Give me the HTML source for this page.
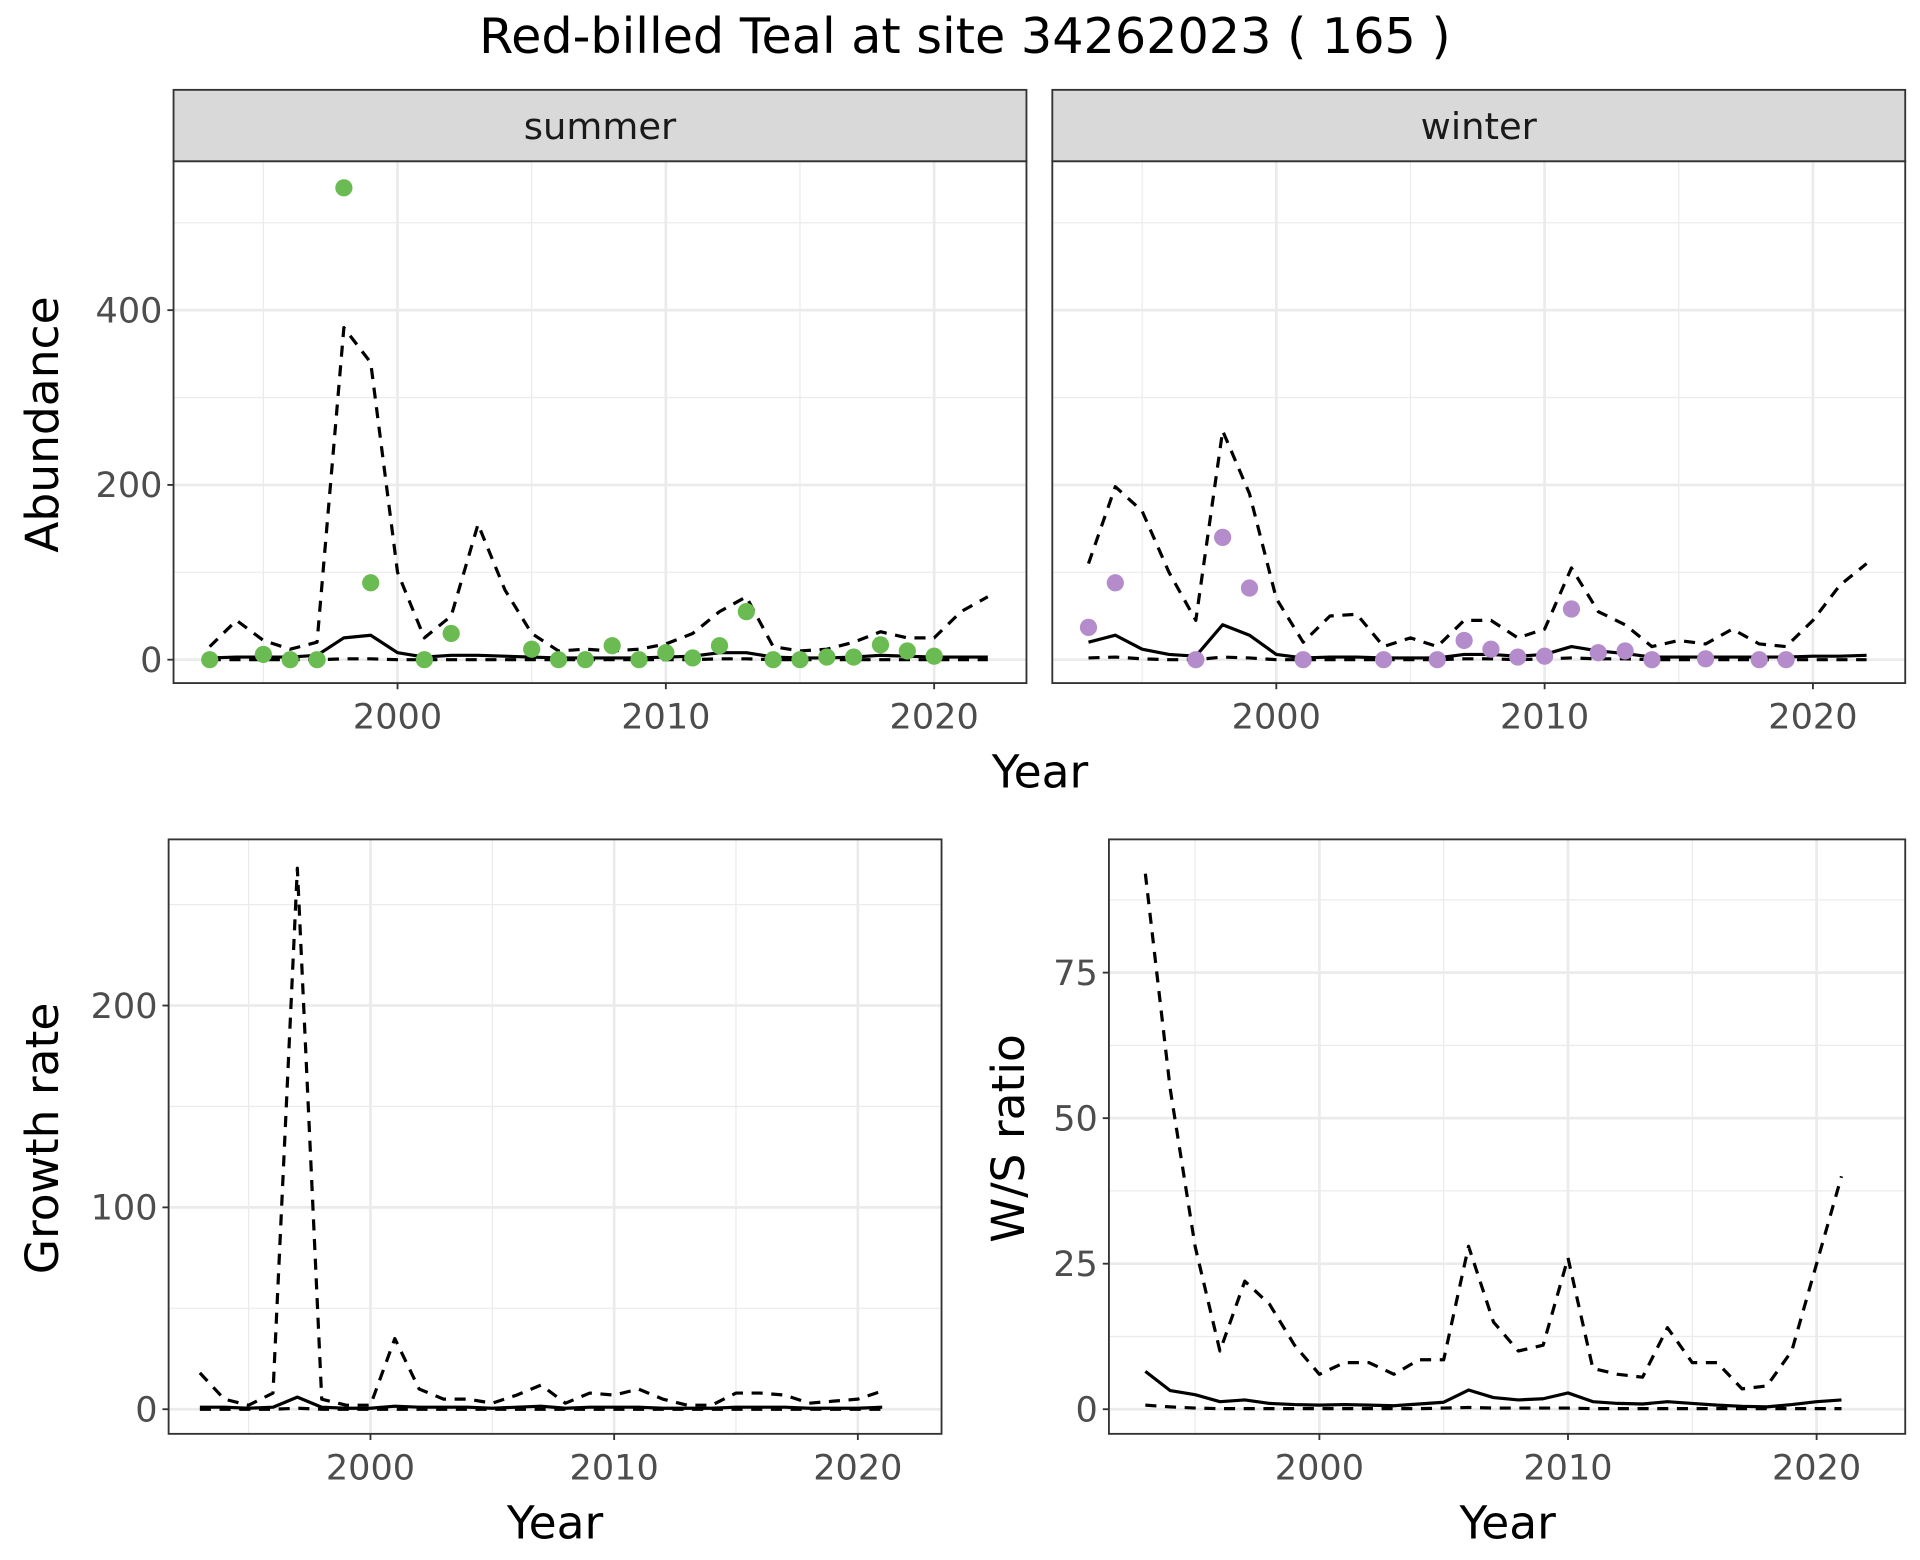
<!DOCTYPE html>
<html><head><meta charset="utf-8"><style>
html,body{margin:0;padding:0;background:#fff;}
svg{display:block;font-family:"DejaVu Sans","Liberation Sans",sans-serif;}
</style></head><body>
<svg id="chart" width="1920" height="1560" viewBox="0 0 1560 1267.5" xmlns="http://www.w3.org/2000/svg">
<rect width="1560" height="1267.5" fill="#fff"/>
<text x="784" y="43" font-size="40" text-anchor="middle" fill="#000">Red-billed Teal at site 34262023 ( 165 )</text>
</svg>
<script>
const years = [1993,1994,1995,1996,1997,1998,1999,2000,2001,2002,2003,2004,2005,2006,2007,2008,2009,2010,2011,2012,2013,2014,2015,2016,2017,2018,2019,2020,2021,2022];
const summerUpper = [15,45,22,12,20,380,340,100,25,50,155,80,30,10,12,10,12,18,30,55,72,15,10,12,20,32,25,25,55,72];
const summerMean = [2,3,3,3,5,25,28,8,3,5,5,4,3,2,2,2,2,3,4,8,8,3,2,2,3,5,4,3,3,3];
const summerLower = [0,0,0,0,0,1,1,0,0,0,0,0,0,0,0,0,0,0,0,1,1,0,0,0,0,0,0,0,0,0];
const summerPtYears = [1993,1995,1996,1997,1998,1999,2001,2002,2005,2006,2007,2008,2009,2010,2011,2012,2013,2014,2015,2016,2017,2018,2019,2020];
const summerPtVals = [0,6,0,0,540,88,0,30,12,0,0,16,0,8,2,16,55,0,0,3,3,17,10,4];
const winterUpper = [110,198,170,100,45,262,190,70,20,50,52,15,25,15,45,45,25,35,105,55,40,15,22,18,35,18,15,45,85,110];
const winterMean = [20,28,12,6,4,40,28,6,2,3,3,2,2,2,6,6,4,6,15,10,7,3,3,3,3,3,3,4,4,5];
const winterLower = [2,3,1,0,0,3,2,0,0,0,0,0,0,0,1,1,0,1,2,1,1,0,0,0,0,0,0,0,0,0];
const winterPtYears = [1993,1994,1997,1998,1999,2001,2004,2006,2007,2008,2009,2010,2011,2012,2013,2014,2016,2018,2019];
const winterPtVals = [37,88,0,140,82,0,0,0,22,12,3,4,58,8,10,0,1,0,0];
const years2 = [1993,1994,1995,1996,1997,1998,1999,2000,2001,2002,2003,2004,2005,2006,2007,2008,2009,2010,2011,2012,2013,2014,2015,2016,2017,2018,2019,2020,2021];
const growthUpper = [18,5,2,8,268,5,2,2,35,10,5,5,3,7,12,3,8,7,10,5,2,2,8,8,7,3,4,5,9];
const growthMean = [1,1,0.5,1,6,1,0.5,0.5,1.5,1,1,1,0.5,1,1.5,0.5,1,1,1,0.5,0.5,0.5,1,1,1,0.5,0.5,0.5,1];
const growthLower = [0,0,0,0,0.5,0,0,0,0,0,0,0,0,0,0,0,0,0,0,0,0,0,0,0,0,0,0,0,0];
const ratioUpper = [92,55,28,10,22,18,11,6,8,8,6,8.5,8.5,28,15,10,11,26,7,6,5.5,14,8,8,3.5,4,10,25,40];
const ratioMean = [6.5,3.2,2.5,1.3,1.6,1.0,0.8,0.7,0.8,0.7,0.6,0.9,1.2,3.3,2.0,1.6,1.8,2.8,1.3,1.0,0.9,1.3,1.0,0.7,0.5,0.4,0.8,1.3,1.6];
const ratioLower = [0.7,0.4,0.2,0.1,0.1,0.1,0.1,0.1,0.1,0.1,0.1,0.1,0.2,0.3,0.2,0.2,0.2,0.2,0.1,0.1,0.1,0.1,0.1,0.1,0.1,0.1,0.1,0.1,0.1];
const abTicks = [0,200,400];
const abMinor = [100,300,500];
const grTicks = [0,100,200];
const grMinor = [50,150,250];
const wsTicks = [0,25,50,75];
const wsMinor = [12.5,37.5,62.5,87.5];
const xTicks = [2000,2010,2020];
const xMinor = [1995,2005,2015];

const NS = 'http://www.w3.org/2000/svg';
const svg = document.getElementById('chart');
function mk(tag, attrs, parent){
  const e = document.createElementNS(NS, tag);
  for (const k in attrs) e.setAttribute(k, attrs[k]);
  (parent||svg).appendChild(e);
  return e;
}
function panel(p){
  const g = mk('g', {});
  
  
  const x = v => p.x0 + (v - 2000) * p.xs;
  const y = v => p.y0 - v * p.ys;
  mk('rect', {x:p.l, y:p.t, width:p.r-p.l, height:p.b-p.t, fill:'#fff'}, g);
  p.yMinor.forEach(v => { if (y(v) > p.t) mk('line', {x1:p.l, x2:p.r, y1:y(v), y2:y(v), stroke:'#ebebeb', 'stroke-width':1}, g); });
  xMinor.forEach(v => mk('line', {x1:x(v), x2:x(v), y1:p.t, y2:p.b, stroke:'#ebebeb', 'stroke-width':1}, g));
  p.yTicks.forEach(v => mk('line', {x1:p.l, x2:p.r, y1:y(v), y2:y(v), stroke:'#ebebeb', 'stroke-width':2.2}, g));
  xTicks.forEach(v => mk('line', {x1:x(v), x2:x(v), y1:p.t, y2:p.b, stroke:'#ebebeb', 'stroke-width':2.2}, g));
  const line = (xs, vals, dash, nm) => {
    const pl = mk('polyline', {points: vals.map((v,i)=>x(xs[i])+','+y(v)).join(' '), fill:'none', stroke:'#000', 'stroke-width':2.6, 'stroke-dasharray':dash?'9,7':'none', 'stroke-linejoin':'round'}, g);
    
    
  };
  line(p.xs_, p.lower, true, 'lower-bound-line');
  line(p.xs_, p.upper, true, 'upper-bound-line');
  line(p.xs_, p.mean, false, 'mean-line');
  if (p.ptY) p.ptY.forEach((yr,i) => {
    const c = mk('circle', {cx:x(yr), cy:y(p.ptV[i]), r:7, fill:p.col}, g);
    
    
  });
  mk('rect', {x:p.l, y:p.t, width:p.r-p.l, height:p.b-p.t, fill:'none', stroke:'#333', 'stroke-width':1.5}, g);
  if (p.showY) p.yTicks.forEach(v => {
    mk('line', {x1:p.l-5, x2:p.l, y1:y(v), y2:y(v), stroke:'#333', 'stroke-width':1.5}, g);
    const t = mk('text', {x:p.l-9, y:y(v)+10, 'font-size':28.5, fill:'#4d4d4d', 'text-anchor':'end'}, g);
    t.textContent = v;
    
    
  });
  xTicks.forEach(v => {
    mk('line', {x1:x(v), x2:x(v), y1:p.b, y2:p.b+5, stroke:'#333', 'stroke-width':1.5}, g);
    const t = mk('text', {x:x(v), y:p.b+37, 'font-size':28.5, fill:'#4d4d4d', 'text-anchor':'middle'}, g);
    t.textContent = v;
    
    
  });
  if (p.strip) {
    mk('rect', {x:p.l, y:p.t-58, width:p.r-p.l, height:58, fill:'#d9d9d9', stroke:'#333', 'stroke-width':1.5}, g);
    const t = mk('text', {x:(p.l+p.r)/2, y:p.t-18, 'font-size':30, fill:'#1a1a1a', 'text-anchor':'middle'}, g);
    t.textContent = p.strip;
    
    
  }
}
panel({name:'summer-panel', l:141, r:834, t:131, b:555, x0:323, xs:21.8, y0:536, ys:0.71, yTicks:abTicks, yMinor:abMinor, xs_:years, upper:summerUpper, mean:summerMean, lower:summerLower, ptY:summerPtYears, ptV:summerPtVals, col:'#6abb52', showY:true, strip:'summer'});
panel({name:'winter-panel', l:855, r:1548, t:131, b:555, x0:1037, xs:21.8, y0:536, ys:0.71, yTicks:abTicks, yMinor:abMinor, xs_:years, upper:winterUpper, mean:winterMean, lower:winterLower, ptY:winterPtYears, ptV:winterPtVals, col:'#b48ccb', showY:false, strip:'winter'});
panel({name:'growth-panel', l:137, r:765, t:682, b:1165, x0:301, xs:19.8, y0:1145, ys:1.64, yTicks:grTicks, yMinor:grMinor, xs_:years2, upper:growthUpper, mean:growthMean, lower:growthLower, showY:true});
panel({name:'ratio-panel', l:901, r:1548, t:682, b:1165, x0:1072, xs:20.2, y0:1145, ys:4.73, yTicks:wsTicks, yMinor:wsMinor, xs_:years2, upper:ratioUpper, mean:ratioMean, lower:ratioLower, showY:true});
function label(txt, x, y, rot, nm){
  const t = mk('text', {x:x, y:y, 'font-size':37, fill:'#000', 'text-anchor':'middle', transform: rot ? 'rotate(-90 '+x+' '+y+')' : ''});
  t.textContent = txt;
  
  
}
label('Year', 845, 640, false, 'x-axis-title');
label('Abundance', 47, 345, true, 'y-axis-title');
label('Year', 451, 1250, false, 'x-axis-title');
label('Growth rate', 47, 925, true, 'y-axis-title');
label('Year', 1225, 1250, false, 'x-axis-title');
label('W/S ratio', 832, 925, true, 'y-axis-title');
</script>
</body></html>
